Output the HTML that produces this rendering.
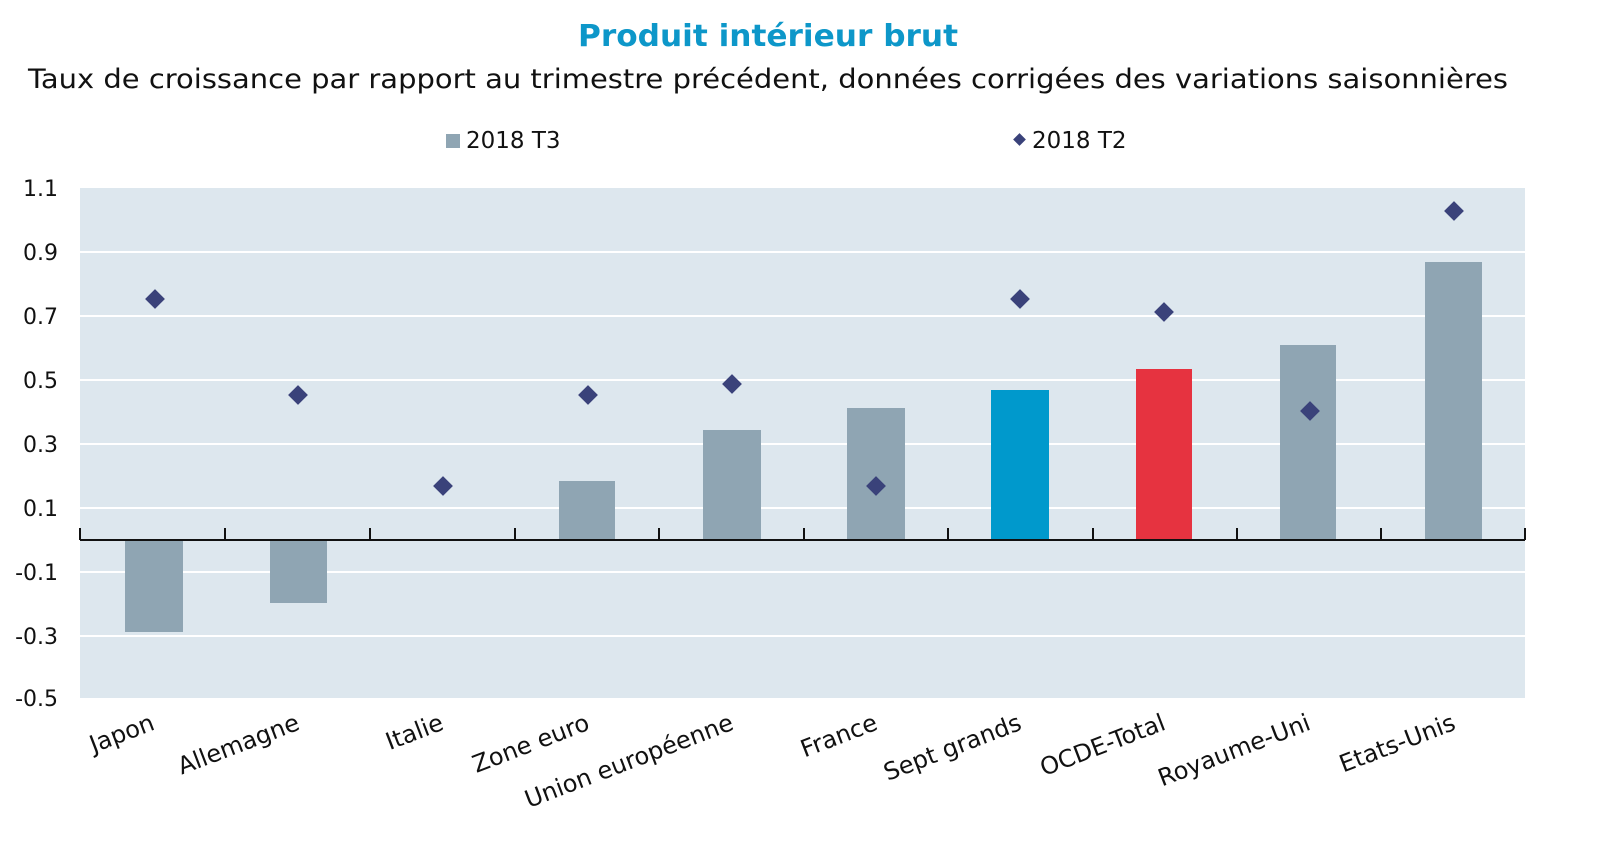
<!DOCTYPE html>
<html><head><meta charset="utf-8"><style>
html,body{margin:0;padding:0;background:#fff;}
svg{display:block;font-family:"DejaVu Sans","Liberation Sans",sans-serif;}
</style></head><body>
<svg width="1600" height="843" viewBox="0 0 1600 843" xmlns="http://www.w3.org/2000/svg">
<text x="768" y="46" text-anchor="middle" font-size="30" font-weight="bold" fill="#0d97c9" textLength="380" lengthAdjust="spacingAndGlyphs">Produit intérieur brut</text>
<text x="768" y="88" text-anchor="middle" font-size="27" fill="#111" textLength="1480" lengthAdjust="spacingAndGlyphs">Taux de croissance par rapport au trimestre précédent, données corrigées des variations saisonnières</text>
<rect x="446" y="134" width="14" height="14" fill="#8fa5b3"/>
<text x="466" y="148" font-size="23" fill="#111">2018 T3</text>
<rect x="1015" y="135" width="9" height="9" fill="#3a427a" transform="rotate(45 1019.5 139.5)"/>
<text x="1032" y="148" font-size="23" fill="#111">2018 T2</text>
<rect x="80" y="188" width="1445" height="510" fill="#dde7ee"/>
<g stroke="#fff" stroke-width="2">
<line x1="80" x2="1525" y1="252" y2="252"/><line x1="80" x2="1525" y1="316" y2="316"/>
<line x1="80" x2="1525" y1="380" y2="380"/><line x1="80" x2="1525" y1="444" y2="444"/>
<line x1="80" x2="1525" y1="508" y2="508"/><line x1="80" x2="1525" y1="572" y2="572"/>
<line x1="80" x2="1525" y1="636" y2="636"/>
</g>
<g font-size="22" fill="#111" text-anchor="end">
<text x="58" y="196">1.1</text><text x="58" y="260">0.9</text><text x="58" y="324">0.7</text>
<text x="58" y="388">0.5</text><text x="58" y="452">0.3</text><text x="58" y="516">0.1</text>
<text x="58" y="580">-0.1</text><text x="58" y="644">-0.3</text><text x="58" y="706">-0.5</text>
</g>
<g fill="#8fa5b3">
<rect x="125" y="540" width="58" height="92"/>
<rect x="270" y="540" width="57" height="63"/>
<rect x="559" y="481" width="56" height="59"/>
<rect x="703" y="430" width="58" height="110"/>
<rect x="847" y="408" width="58" height="132"/>
<rect x="1280" y="345" width="56" height="195"/>
<rect x="1425" y="262" width="57" height="278"/>
</g>
<rect x="991" y="390" width="58" height="150" fill="#0099cc"/>
<rect x="1136" y="369" width="56" height="171" fill="#e63340"/>
<g stroke="#111" stroke-width="2">
<line x1="80" x2="1525" y1="540" y2="540"/>
<line x1="225" x2="225" y1="528" y2="540"/><line x1="370" x2="370" y1="528" y2="540"/>
<line x1="515" x2="515" y1="528" y2="540"/><line x1="659" x2="659" y1="528" y2="540"/>
<line x1="804" x2="804" y1="528" y2="540"/><line x1="948" x2="948" y1="528" y2="540"/>
<line x1="1093" x2="1093" y1="528" y2="540"/><line x1="1237" x2="1237" y1="528" y2="540"/>
<line x1="1381" x2="1381" y1="528" y2="540"/><line x1="1525" x2="1525" y1="528" y2="540"/>
<line x1="80" x2="80" y1="528" y2="540"/>
</g>
<g fill="#3a427a">
<rect x="-7" y="-7" width="14" height="14" transform="translate(155 299) rotate(45)"/>
<rect x="-7" y="-7" width="14" height="14" transform="translate(298 395) rotate(45)"/>
<rect x="-7" y="-7" width="14" height="14" transform="translate(443 486) rotate(45)"/>
<rect x="-7" y="-7" width="14" height="14" transform="translate(588 395) rotate(45)"/>
<rect x="-7" y="-7" width="14" height="14" transform="translate(732 384) rotate(45)"/>
<rect x="-7" y="-7" width="14" height="14" transform="translate(876 486) rotate(45)"/>
<rect x="-7" y="-7" width="14" height="14" transform="translate(1020 299) rotate(45)"/>
<rect x="-7" y="-7" width="14" height="14" transform="translate(1164 312) rotate(45)"/>
<rect x="-7" y="-7" width="14" height="14" transform="translate(1310 411) rotate(45)"/>
<rect x="-7" y="-7" width="14" height="14" transform="translate(1454 211) rotate(45)"/>
</g>
<g font-size="24" fill="#111" text-anchor="end">
<text transform="translate(156 729) rotate(-21)">Japon</text>
<text transform="translate(301 729) rotate(-21)">Allemagne</text>
<text transform="translate(445 729) rotate(-21)">Italie</text>
<text transform="translate(591 729) rotate(-21)">Zone euro</text>
<text transform="translate(735 729) rotate(-21)">Union européenne</text>
<text transform="translate(879 729) rotate(-21)">France</text>
<text transform="translate(1023 729) rotate(-21)">Sept grands</text>
<text transform="translate(1167 729) rotate(-21)">OCDE-Total</text>
<text transform="translate(1312 729) rotate(-21)">Royaume-Uni</text>
<text transform="translate(1457 729) rotate(-21)">Etats-Unis</text>
</g>
</svg>
</body></html>
